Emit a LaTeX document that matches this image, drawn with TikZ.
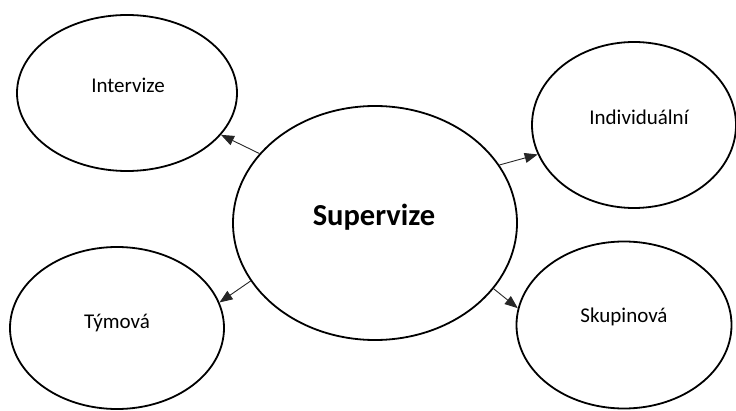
\documentclass[tikz,border=0pt]{standalone}
\usepackage{fontspec}
\setmainfont{Carlito}
\usetikzlibrary{shapes.geometric,arrows.meta}

\begin{document}
\begin{tikzpicture}[x=1pt, y=1pt,
  bubble/.style={ellipse, draw, line width=1.8pt, inner sep=0pt},
  word/.style={font=\fontsize{21}{25}\selectfont},
  link/.style={-{Triangle[length=13pt,width=10pt]}, line width=0.9pt, draw=black!85}]
  \useasboundingbox (0,0) rectangle (736,410);

  \node[bubble, minimum width=284pt, minimum height=234pt] (sup) at (375,187) {};
  \node[font=\bfseries\fontsize{30.5}{36}\selectfont] (supT) at (374,193) {Supervize};

  \node[bubble, minimum width=220pt, minimum height=156pt] (intv) at (127,317) {};
  \node[word] (intvT) at (128,325) {Intervize};

  \node[bubble, minimum width=204pt, minimum height=166pt] (indv) at (634,285) {};
  \node[word] (indvT) at (639,293) {Individuální};

  \node[bubble, minimum width=214pt, minimum height=162pt] (tym) at (117,82) {};
  \node[word] (tymT) at (117,87) {Týmová};

  \node[bubble, minimum width=215pt, minimum height=167pt] (skup) at (624,85) {};
  \node[word] (skupT) at (624,93) {Skupinová};

  \foreach \a/\n/\b in {149/intv/-24, 25/indv/197, 205/tym/14, -29/skup/171}
    \draw[link] (sup.\a) -- (\n.\b);
\end{tikzpicture}
\end{document}
